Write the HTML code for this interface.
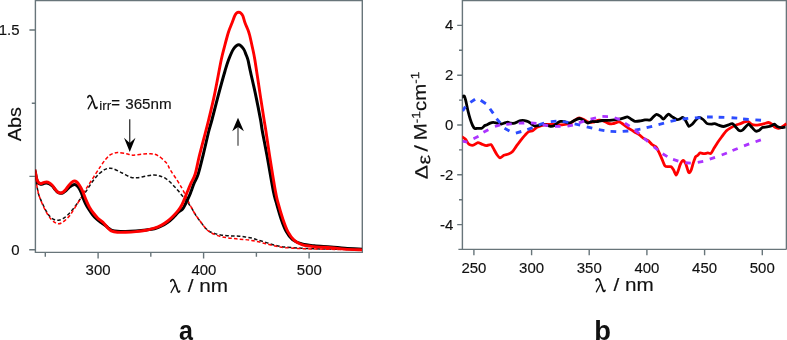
<!DOCTYPE html>
<html><head><meta charset="utf-8"><title>fig</title>
<style>
html,body{margin:0;padding:0;background:#fff;}
body{width:787px;height:340px;overflow:hidden;}
svg{display:block;will-change:transform;}
text{font-family:"Liberation Sans",sans-serif;fill:#111;stroke:#111;stroke-width:0.15px;}
.ser{font-family:"Liberation Serif",serif;}
.b{font-weight:bold;stroke:none;}
</style></head><body>
<svg width="787" height="340" viewBox="0 0 787 340">
<rect width="787" height="340" fill="#fff"/>
<defs><clipPath id="cl"><rect x="35.4" y="0" width="327" height="252.4"/></clipPath><clipPath id="cr"><rect x="462.4" y="0" width="324.2" height="249.4"/></clipPath></defs>

<g stroke="#68757a" stroke-width="1.4" fill="none">
<path d="M35.4 0 V252.4 H362.3 V0.6 H35.4"/>
<path d="M29.4 30 H35.4 M31.8 103.2 H35.4 M29.4 176.4 H35.4 M29.2 249.7 H35.4"/>
<path d="M45.3 252.4 V256.8 M98.1 252.4 V258.6 M150.8 252.4 V256.8 M203.6 252.4 V258.6 M256.4 252.4 V256.8 M309.1 252.4 V258.6 "/>
</g>
<g clip-path="url(#cl)">
<path d="M35.20 170.00 C35.30 171.00 35.57 173.67 35.80 176.00 C36.03 178.33 36.22 181.33 36.60 184.00 C36.98 186.67 37.67 190.00 38.10 192.00 C38.53 194.00 38.50 194.13 39.20 196.00 C39.90 197.87 41.10 200.62 42.30 203.20 C43.50 205.78 45.03 209.18 46.40 211.50 C47.77 213.82 49.13 215.73 50.50 217.10 C51.87 218.47 53.23 219.18 54.60 219.70 C55.97 220.22 57.32 220.37 58.70 220.20 C60.08 220.03 61.52 219.47 62.90 218.70 C64.28 217.93 65.63 216.80 67.00 215.60 C68.37 214.40 69.73 213.05 71.10 211.50 C72.47 209.95 73.92 208.02 75.20 206.30 C76.48 204.58 77.68 202.83 78.80 201.20 C79.92 199.57 80.60 198.28 81.90 196.50 C83.20 194.72 84.80 193.05 86.60 190.50 C88.40 187.95 90.65 183.95 92.70 181.20 C94.75 178.45 96.93 175.92 98.90 174.00 C100.87 172.08 102.85 170.65 104.50 169.70 C106.15 168.75 107.30 168.45 108.80 168.30 C110.30 168.15 111.27 168.02 113.50 168.80 C115.73 169.58 119.35 171.60 122.20 173.00 C125.05 174.40 128.15 176.40 130.60 177.20 C133.05 178.00 134.45 177.97 136.90 177.80 C139.35 177.63 142.50 176.68 145.30 176.20 C148.10 175.72 151.25 174.93 153.70 174.90 C156.15 174.87 157.92 175.35 160.00 176.00 C162.08 176.65 164.13 177.40 166.20 178.80 C168.27 180.20 170.43 182.43 172.40 184.40 C174.37 186.37 176.28 188.62 178.00 190.60 C179.72 192.58 181.37 194.70 182.70 196.30 C184.03 197.90 184.95 198.88 186.00 200.20 C187.05 201.52 188.12 203.00 189.00 204.20 C189.88 205.40 190.23 205.67 191.30 207.40 C192.37 209.13 193.85 212.20 195.40 214.60 C196.95 217.00 198.98 219.62 200.60 221.80 C202.22 223.98 203.65 226.12 205.10 227.70 C206.55 229.28 207.75 230.35 209.30 231.30 C210.85 232.25 212.52 232.80 214.40 233.40 C216.28 234.00 218.53 234.52 220.60 234.90 C222.67 235.28 224.73 235.52 226.80 235.70 C228.87 235.88 230.95 235.92 233.00 236.00 C235.05 236.08 237.05 236.03 239.10 236.20 C241.15 236.37 243.23 236.70 245.30 237.00 C247.37 237.30 249.62 237.57 251.50 238.00 C253.38 238.43 254.72 239.03 256.60 239.60 C258.48 240.17 260.73 240.75 262.80 241.40 C264.87 242.05 266.93 242.87 269.00 243.50 C271.07 244.13 273.40 244.73 275.20 245.20 C277.00 245.67 278.20 246.00 279.80 246.30 C281.40 246.60 281.87 246.72 284.80 247.00 C287.73 247.28 293.20 247.73 297.40 248.00 C301.60 248.27 304.57 248.42 310.00 248.60 C315.43 248.78 321.33 248.92 330.00 249.10 C338.67 249.28 356.67 249.60 362.00 249.70" fill="none" stroke="#111" stroke-width="1.5" stroke-dasharray="3.6 2.2"/>
<path d="M35.20 170.00 C35.30 171.00 35.57 173.67 35.80 176.00 C36.03 178.33 36.22 181.33 36.60 184.00 C36.98 186.67 37.67 190.00 38.10 192.00 C38.53 194.00 38.33 193.62 39.20 196.00 C40.07 198.38 41.93 203.30 43.30 206.30 C44.67 209.30 46.03 211.77 47.40 214.00 C48.77 216.23 50.22 218.27 51.50 219.70 C52.78 221.13 53.98 221.92 55.10 222.60 C56.22 223.28 57.08 223.77 58.20 223.80 C59.32 223.83 60.50 223.52 61.80 222.80 C63.10 222.08 64.62 220.78 66.00 219.50 C67.38 218.22 68.73 216.87 70.10 215.10 C71.47 213.33 72.83 211.05 74.20 208.90 C75.57 206.75 77.02 204.27 78.30 202.20 C79.58 200.13 81.03 198.07 81.90 196.50 C82.77 194.93 82.35 194.78 83.50 192.80 C84.65 190.82 86.82 187.68 88.80 184.60 C90.78 181.52 93.40 177.40 95.40 174.30 C97.40 171.20 99.12 168.47 100.80 166.00 C102.48 163.53 104.02 161.30 105.50 159.50 C106.98 157.70 108.28 156.25 109.70 155.20 C111.12 154.15 112.62 153.63 114.00 153.20 C115.38 152.77 115.93 152.52 118.00 152.60 C120.07 152.68 123.95 153.27 126.40 153.70 C128.85 154.13 130.25 155.10 132.70 155.20 C135.15 155.30 138.13 154.55 141.10 154.30 C144.07 154.05 147.70 153.48 150.50 153.70 C153.30 153.92 155.27 154.08 157.90 155.60 C160.53 157.12 164.23 160.40 166.30 162.80 C168.37 165.20 168.60 167.25 170.30 170.00 C172.00 172.75 174.53 176.22 176.50 179.30 C178.47 182.38 180.57 185.77 182.10 188.50 C183.63 191.23 184.77 193.77 185.70 195.70 C186.63 197.63 186.77 198.15 187.70 200.10 C188.63 202.05 190.02 204.98 191.30 207.40 C192.58 209.82 193.85 212.20 195.40 214.60 C196.95 217.00 198.98 219.60 200.60 221.80 C202.22 224.00 203.65 226.17 205.10 227.80 C206.55 229.43 207.75 230.50 209.30 231.60 C210.85 232.70 212.52 233.58 214.40 234.40 C216.28 235.22 218.53 235.95 220.60 236.50 C222.67 237.05 224.73 237.37 226.80 237.70 C228.87 238.03 230.95 238.27 233.00 238.50 C235.05 238.73 237.05 238.92 239.10 239.10 C241.15 239.28 243.23 239.38 245.30 239.60 C247.37 239.82 249.62 240.10 251.50 240.40 C253.38 240.70 254.72 240.98 256.60 241.40 C258.48 241.82 260.73 242.38 262.80 242.90 C264.87 243.42 266.93 243.98 269.00 244.50 C271.07 245.02 273.40 245.58 275.20 246.00 C277.00 246.42 278.20 246.73 279.80 247.00 C281.40 247.27 281.87 247.37 284.80 247.60 C287.73 247.83 293.20 248.18 297.40 248.40 C301.60 248.62 304.57 248.75 310.00 248.90 C315.43 249.05 321.33 249.15 330.00 249.30 C338.67 249.45 356.67 249.72 362.00 249.80" fill="none" stroke="#f00" stroke-width="1.5" stroke-dasharray="3.6 2.2" stroke-dashoffset="2.9"/>
<path d="M34.70 169.50 C34.82 170.00 35.08 170.95 35.40 172.50 C35.72 174.05 36.15 177.12 36.60 178.80 C37.05 180.48 37.42 181.68 38.10 182.60 C38.78 183.52 39.83 184.12 40.70 184.30 C41.57 184.48 42.35 183.92 43.30 183.70 C44.25 183.48 45.37 182.95 46.40 183.00 C47.43 183.05 48.47 183.47 49.50 184.00 C50.53 184.53 51.67 185.28 52.60 186.20 C53.53 187.12 54.25 188.50 55.10 189.50 C55.95 190.50 56.83 191.58 57.70 192.20 C58.57 192.82 59.43 193.10 60.30 193.20 C61.17 193.30 61.95 193.25 62.90 192.80 C63.85 192.35 64.98 191.38 66.00 190.50 C67.02 189.62 68.00 188.37 69.00 187.50 C70.00 186.63 70.97 185.78 72.00 185.30 C73.03 184.82 74.15 184.30 75.20 184.60 C76.25 184.90 77.27 185.73 78.30 187.10 C79.33 188.47 80.53 190.82 81.40 192.80 C82.27 194.78 82.82 197.22 83.50 199.00 C84.18 200.78 84.70 201.92 85.50 203.50 C86.30 205.08 87.15 206.67 88.30 208.50 C89.45 210.33 91.03 212.75 92.40 214.50 C93.77 216.25 94.97 217.62 96.50 219.00 C98.03 220.38 100.02 221.63 101.60 222.80 C103.18 223.97 104.77 225.05 106.00 226.00 C107.23 226.95 108.00 227.78 109.00 228.50 C110.00 229.22 110.60 229.83 112.00 230.30 C113.40 230.77 115.13 231.10 117.40 231.30 C119.67 231.50 122.52 231.55 125.60 231.50 C128.68 231.45 132.47 231.25 135.90 231.00 C139.33 230.75 143.12 230.38 146.20 230.00 C149.28 229.62 151.83 229.37 154.40 228.70 C156.97 228.03 159.37 227.07 161.60 226.00 C163.83 224.93 165.90 223.67 167.80 222.30 C169.70 220.93 171.28 219.43 173.00 217.80 C174.72 216.17 176.50 213.97 178.10 212.50 C179.70 211.03 181.42 210.33 182.60 209.00 C183.78 207.67 184.07 206.72 185.20 204.50 C186.33 202.28 188.40 197.95 189.40 195.70 C190.40 193.45 190.43 193.05 191.20 191.00 C191.97 188.95 192.83 186.23 194.00 183.40 C195.17 180.57 196.70 178.63 198.20 174.00 C199.70 169.37 201.23 162.77 203.00 155.60 C204.77 148.43 207.32 136.93 208.80 131.00 C210.28 125.07 210.33 125.90 211.90 120.00 C213.47 114.10 216.02 103.77 218.20 95.60 C220.38 87.43 223.28 76.93 225.00 71.00 C226.72 65.07 227.08 63.67 228.50 60.00 C229.92 56.33 231.78 51.55 233.50 49.00 C235.22 46.45 237.12 44.70 238.80 44.70 C240.48 44.70 242.37 47.28 243.60 49.00 C244.83 50.72 245.47 53.17 246.20 55.00 C246.93 56.83 247.32 57.33 248.00 60.00 C248.68 62.67 249.00 65.07 250.30 71.00 C251.60 76.93 254.08 87.43 255.80 95.60 C257.52 103.77 259.52 114.10 260.60 120.00 C261.68 125.90 261.23 125.07 262.30 131.00 C263.37 136.93 265.17 145.60 267.00 155.60 C268.83 165.60 271.75 183.17 273.30 191.00 C274.85 198.83 274.97 197.87 276.30 202.60 C277.63 207.33 279.63 214.58 281.30 219.40 C282.97 224.22 284.43 228.13 286.30 231.50 C288.17 234.87 289.88 237.52 292.50 239.60 C295.12 241.68 298.38 242.97 302.00 244.00 C305.62 245.03 309.38 245.32 314.20 245.80 C319.02 246.28 325.77 246.48 330.90 246.90 C336.03 247.32 339.82 247.92 345.00 248.30 C350.18 248.68 359.17 249.05 362.00 249.20" fill="none" stroke="#000" stroke-width="3.0" stroke-linejoin="round"/>
<path d="M34.70 169.50 C34.82 170.00 35.08 171.02 35.40 172.50 C35.72 173.98 36.15 176.82 36.60 178.40 C37.05 179.98 37.42 181.15 38.10 182.00 C38.78 182.85 39.83 183.38 40.70 183.50 C41.57 183.62 42.35 182.95 43.30 182.70 C44.25 182.45 45.37 181.95 46.40 182.00 C47.43 182.05 48.47 182.40 49.50 183.00 C50.53 183.60 51.67 184.57 52.60 185.60 C53.53 186.63 54.25 188.13 55.10 189.20 C55.95 190.27 56.83 191.37 57.70 192.00 C58.57 192.63 59.43 192.95 60.30 193.00 C61.17 193.05 61.95 192.93 62.90 192.30 C63.85 191.67 64.98 190.40 66.00 189.20 C67.02 188.00 68.07 186.25 69.00 185.10 C69.93 183.95 70.73 182.98 71.60 182.30 C72.47 181.62 73.33 181.05 74.20 181.00 C75.07 180.95 75.95 181.32 76.80 182.00 C77.65 182.68 78.45 183.82 79.30 185.10 C80.15 186.38 81.12 188.08 81.90 189.70 C82.68 191.32 83.22 192.88 84.00 194.80 C84.78 196.72 85.67 199.10 86.60 201.20 C87.53 203.30 88.40 205.35 89.60 207.40 C90.80 209.45 92.42 211.70 93.80 213.50 C95.18 215.30 96.37 216.73 97.90 218.20 C99.43 219.67 101.30 220.63 103.00 222.30 C104.70 223.97 106.73 226.78 108.10 228.20 C109.47 229.62 109.65 230.12 111.20 230.80 C112.75 231.48 115.00 232.05 117.40 232.30 C119.80 232.55 122.52 232.42 125.60 232.30 C128.68 232.18 132.47 231.95 135.90 231.60 C139.33 231.25 143.12 230.77 146.20 230.20 C149.28 229.63 151.83 229.05 154.40 228.20 C156.97 227.35 159.37 226.30 161.60 225.10 C163.83 223.90 165.90 222.47 167.80 221.00 C169.70 219.53 171.28 218.02 173.00 216.30 C174.72 214.58 176.58 212.67 178.10 210.70 C179.62 208.73 180.83 207.00 182.10 204.50 C183.37 202.00 184.77 197.95 185.70 195.70 C186.63 193.45 186.83 193.05 187.70 191.00 C188.57 188.95 189.65 186.23 190.90 183.40 C192.15 180.57 193.78 178.63 195.20 174.00 C196.62 169.37 197.63 162.77 199.40 155.60 C201.17 148.43 204.27 136.93 205.80 131.00 C207.33 125.07 207.18 125.90 208.60 120.00 C210.02 114.10 212.20 105.60 214.30 95.60 C216.40 85.60 219.52 68.10 221.20 60.00 C222.88 51.90 223.33 51.17 224.40 47.00 C225.47 42.83 226.80 37.83 227.60 35.00 C228.40 32.17 228.45 32.03 229.20 30.00 C229.95 27.97 231.17 25.18 232.10 22.80 C233.03 20.42 234.05 17.33 234.80 15.70 C235.55 14.07 235.97 13.58 236.60 13.00 C237.23 12.42 237.90 12.20 238.60 12.20 C239.30 12.20 240.10 12.42 240.80 13.00 C241.50 13.58 242.10 14.07 242.80 15.70 C243.50 17.33 244.13 20.42 245.00 22.80 C245.87 25.18 247.23 27.97 248.00 30.00 C248.77 32.03 248.88 32.17 249.60 35.00 C250.32 37.83 251.42 42.83 252.30 47.00 C253.18 51.17 253.57 51.90 254.90 60.00 C256.23 68.10 258.77 85.60 260.30 95.60 C261.83 105.60 263.17 114.10 264.10 120.00 C265.03 125.90 264.98 125.07 265.90 131.00 C266.82 136.93 268.02 145.60 269.60 155.60 C271.18 165.60 274.00 183.17 275.40 191.00 C276.80 198.83 276.73 197.87 278.00 202.60 C279.27 207.33 281.33 214.52 283.00 219.40 C284.67 224.28 286.12 228.42 288.00 231.90 C289.88 235.38 291.87 238.13 294.30 240.30 C296.73 242.47 299.28 243.85 302.60 244.90 C305.92 245.95 309.48 246.13 314.20 246.60 C318.92 247.07 325.77 247.28 330.90 247.70 C336.03 248.12 339.82 248.73 345.00 249.10 C350.18 249.47 359.17 249.77 362.00 249.90" fill="none" stroke="#f00" stroke-width="2.9" stroke-linejoin="round"/>
</g>
<path d="M129.75 119.3 V145" stroke="#222" stroke-width="1.2"/>
<path d="M129.75 152 L124 137.8 L129.75 143 L135.5 137.8 Z" fill="#000"/>
<path d="M238 145.8 V126" stroke="#444" stroke-width="1.2"/>
<path d="M238 117.7 L232.2 131.2 L238 127 L243.9 131.2 Z" fill="#000"/>
<text transform="translate(19.6 35) scale(1.07 1)" font-size="14" text-anchor="end" >1.5</text>
<text transform="translate(19.6 254.8) scale(1.07 1)" font-size="14" text-anchor="end" >0</text>
<text transform="translate(98.1 274.9) scale(1.07 1)" font-size="14" text-anchor="middle" >300</text>
<text transform="translate(203.9 274.9) scale(1.07 1)" font-size="14" text-anchor="middle" >400</text>
<text transform="translate(309.3 274.9) scale(1.07 1)" font-size="14" text-anchor="middle" >500</text>
<text transform="translate(20.8 141.2) rotate(-90) scale(1.07 1)" font-size="18.5">Abs</text>
<g transform="translate(170.5 292.9) scale(0.93 0.97)"><path d="M0.3,-12.0 C0.8,-13.6 2.3,-14.1 3.3,-13.2 C4.3,-12.3 4.8,-10.5 5.4,-8.8 L7.8,-1.9 C8.3,-0.5 9.3,-0.4 9.9,-1.9" fill="none" stroke="#111" stroke-width="1.75" stroke-linecap="round" stroke-linejoin="round"/><path d="M4.9,-8.2 L0.6,-0.4" fill="none" stroke="#111" stroke-width="1.35" stroke-linecap="round"/></g>
<g transform="translate(187.8 291.6) scale(1.12 1)"><text font-size="18.5">/ nm</text></g>
<g transform="translate(87.6 109.3) scale(0.95 1.0)"><path d="M0.3,-12.0 C0.8,-13.6 2.3,-14.1 3.3,-13.2 C4.3,-12.3 4.8,-10.5 5.4,-8.8 L7.8,-1.9 C8.3,-0.5 9.3,-0.4 9.9,-1.9" fill="none" stroke="#111" stroke-width="1.75" stroke-linecap="round" stroke-linejoin="round"/><path d="M4.9,-8.2 L0.6,-0.4" fill="none" stroke="#111" stroke-width="1.35" stroke-linecap="round"/></g>
<text x="99.2" y="110.1" font-size="13.5" text-anchor="start" >irr</text>
<text x="111.2" y="108.2" font-size="15" text-anchor="start" >=</text>
<text transform="translate(125.2 108.8) scale(1.012 1)" font-size="15" text-anchor="start" >365nm</text>
<text transform="translate(178.9 339.6) scale(0.88 1)" font-size="28.5" text-anchor="start" class="b">a</text>
<g stroke="#68757a" stroke-width="1.4" fill="none">
<path d="M462.4 0 V249.4 M458.4 249.4 H786.4 M786.4 249.4 V0.6 H462.4"/>
<path d="M457.2 224.6 H462.4 M459 199.7 H462.4 M457.2 174.8 H462.4 M459 149.9 H462.4 M457.2 125.0 H462.4 M459 100.1 H462.4 M457.2 75.2 H462.4 M459 50.3 H462.4 M457.2 25.4 H462.4 "/>
<path d="M473.9 249.4 V255.2 M531.6 249.4 V255.2 M589.2 249.4 V255.2 M646.9 249.4 V255.2 M704.6 249.4 V255.2 M762.3 249.4 V255.2 "/>
</g>
<g clip-path="url(#cr)">
<path d="M461.00 136.40 C461.19 136.50 462.04 136.83 462.60 137.20 C463.16 137.57 464.96 138.67 465.70 139.50 C466.44 140.33 467.89 143.42 468.80 144.10 C469.71 144.78 472.21 145.38 473.30 145.20 C474.39 145.02 476.88 142.73 477.90 142.60 C478.92 142.47 480.79 143.74 481.80 144.10 C482.81 144.46 485.21 145.54 486.30 145.60 C487.39 145.66 489.98 144.13 490.90 144.60 C491.82 145.07 493.27 148.28 494.00 149.50 C494.73 150.72 496.27 153.79 497.00 154.80 C497.73 155.81 499.27 157.84 500.10 157.90 C500.93 157.96 502.89 155.77 503.90 155.30 C504.91 154.83 507.49 154.42 508.50 154.00 C509.51 153.58 511.38 152.71 512.30 151.80 C513.22 150.89 515.19 147.78 516.20 146.40 C517.21 145.02 519.61 141.68 520.70 140.30 C521.79 138.92 524.38 135.91 525.30 134.90 C526.22 133.89 527.48 132.44 528.40 131.90 C529.32 131.36 531.99 130.95 533.00 130.40 C534.01 129.85 535.89 127.85 536.80 127.30 C537.71 126.75 539.41 126.15 540.60 125.80 C541.79 125.45 545.04 124.57 546.70 124.40 C548.36 124.23 552.56 124.35 554.40 124.40 C556.24 124.45 560.13 124.93 562.00 124.80 C563.87 124.67 568.49 123.85 570.00 123.30 C571.51 122.75 573.50 120.85 574.60 120.20 C575.70 119.55 578.10 117.98 579.20 117.90 C580.30 117.82 582.71 118.98 583.80 119.50 C584.89 120.02 587.21 121.88 588.30 122.20 C589.39 122.52 591.62 122.44 592.90 122.20 C594.18 121.96 597.62 120.31 599.00 120.20 C600.38 120.09 603.30 120.93 604.40 121.30 C605.50 121.67 607.19 123.01 608.20 123.30 C609.21 123.59 611.52 123.88 612.80 123.70 C614.08 123.52 617.70 121.76 618.90 121.80 C620.10 121.84 621.70 123.27 622.80 124.00 C623.90 124.73 626.73 126.98 628.10 127.90 C629.47 128.82 632.88 130.90 634.20 131.70 C635.52 132.50 637.97 133.80 639.10 134.60 C640.23 135.40 642.51 137.67 643.60 138.40 C644.69 139.13 647.19 139.97 648.20 140.70 C649.21 141.43 651.08 143.77 652.00 144.50 C652.92 145.23 655.07 145.88 655.90 146.80 C656.73 147.72 658.17 150.72 658.90 152.20 C659.63 153.68 661.27 157.46 662.00 159.10 C662.73 160.74 664.27 164.99 665.00 165.90 C665.73 166.81 667.36 166.60 668.10 166.70 C668.84 166.80 670.55 166.33 671.20 166.70 C671.85 167.07 672.91 168.79 673.50 169.80 C674.09 170.81 675.56 174.92 676.10 175.10 C676.64 175.28 677.50 172.58 678.00 171.30 C678.50 170.02 679.69 165.72 680.30 164.40 C680.91 163.08 682.45 160.40 683.10 160.30 C683.75 160.20 685.03 162.14 685.70 163.60 C686.37 165.06 688.06 171.67 688.70 172.50 C689.34 173.33 690.45 171.65 691.00 170.50 C691.55 169.35 692.75 164.54 693.30 162.90 C693.85 161.26 695.05 157.72 695.60 156.80 C696.15 155.88 697.35 155.67 697.90 155.20 C698.45 154.73 699.47 153.08 700.20 152.90 C700.93 152.72 703.08 153.70 704.00 153.70 C704.92 153.70 707.07 152.94 707.90 152.90 C708.73 152.86 710.17 153.95 710.90 153.40 C711.63 152.85 713.17 149.64 714.00 148.30 C714.83 146.96 716.89 143.56 717.80 142.20 C718.71 140.84 720.59 138.34 721.60 137.00 C722.61 135.66 725.07 132.13 726.20 131.00 C727.33 129.87 729.86 128.30 731.00 127.60 C732.14 126.90 734.56 125.68 735.70 125.20 C736.84 124.72 739.43 124.00 740.50 123.60 C741.57 123.20 743.70 122.15 744.60 121.90 C745.50 121.65 747.18 121.22 748.00 121.50 C748.82 121.78 750.50 123.76 751.40 124.20 C752.30 124.64 754.44 125.15 755.50 125.20 C756.56 125.25 759.14 124.79 760.20 124.60 C761.26 124.41 763.32 123.85 764.30 123.60 C765.28 123.35 767.50 122.43 768.40 122.50 C769.30 122.57 770.98 123.61 771.80 124.20 C772.62 124.79 774.38 126.91 775.20 127.40 C776.02 127.89 777.70 128.41 778.60 128.30 C779.50 128.19 781.75 127.06 782.70 126.50 C783.65 125.94 786.04 123.95 786.50 123.60" fill="none" stroke="#f00" stroke-width="2.8" stroke-linejoin="round"/>
<path d="M461.40 97.80 C461.54 97.64 462.26 96.72 462.60 96.50 C462.94 96.28 463.83 95.54 464.20 96.00 C464.57 96.46 465.24 98.50 465.70 100.30 C466.16 102.10 467.45 108.71 468.00 111.00 C468.55 113.29 469.75 117.66 470.30 119.40 C470.85 121.14 472.05 124.40 472.60 125.50 C473.15 126.60 474.26 128.26 474.90 128.60 C475.54 128.94 477.07 128.34 477.90 128.30 C478.73 128.26 480.97 128.64 481.80 128.30 C482.63 127.96 484.16 125.92 484.80 125.50 C485.44 125.08 486.45 125.09 487.10 124.80 C487.75 124.51 489.47 123.39 490.20 123.10 C490.93 122.81 492.38 122.40 493.20 122.40 C494.02 122.40 495.99 122.91 497.00 123.10 C498.01 123.29 500.68 124.02 501.60 124.00 C502.52 123.98 503.96 123.12 504.70 122.90 C505.44 122.68 507.07 122.16 507.80 122.20 C508.53 122.24 509.98 123.08 510.80 123.20 C511.62 123.32 513.77 123.38 514.60 123.20 C515.43 123.02 516.97 122.01 517.70 121.70 C518.43 121.39 519.87 120.73 520.70 120.60 C521.53 120.47 523.68 120.47 524.60 120.60 C525.52 120.73 527.57 121.29 528.40 121.70 C529.23 122.11 530.77 123.48 531.50 124.00 C532.23 124.52 533.68 125.82 534.50 126.00 C535.32 126.18 537.38 125.69 538.30 125.50 C539.22 125.31 541.19 124.45 542.20 124.40 C543.21 124.35 545.69 124.87 546.70 125.10 C547.71 125.33 549.68 126.25 550.60 126.30 C551.52 126.35 553.58 125.91 554.40 125.50 C555.22 125.09 556.67 123.39 557.40 122.90 C558.13 122.41 559.67 121.54 560.50 121.40 C561.33 121.26 563.39 121.52 564.30 121.70 C565.21 121.88 567.36 122.77 568.10 122.90 C568.84 123.03 569.76 123.10 570.50 122.80 C571.24 122.50 573.23 120.92 574.30 120.40 C575.37 119.88 578.28 118.50 579.40 118.50 C580.52 118.50 582.60 119.86 583.60 120.40 C584.60 120.94 586.72 122.87 587.70 123.00 C588.68 123.13 590.70 121.66 591.80 121.50 C592.90 121.34 595.66 121.82 596.90 121.70 C598.14 121.58 600.55 120.67 602.10 120.50 C603.65 120.33 607.78 120.46 609.80 120.30 C611.82 120.14 617.26 119.46 618.90 119.20 C620.54 118.94 622.49 118.38 623.50 118.10 C624.51 117.82 626.38 116.77 627.30 116.90 C628.22 117.03 630.28 118.67 631.20 119.20 C632.12 119.73 633.99 121.08 635.00 121.30 C636.01 121.52 638.41 121.17 639.60 121.00 C640.79 120.83 643.62 120.03 644.90 119.90 C646.18 119.77 649.29 120.26 650.30 119.90 C651.31 119.54 652.57 117.57 653.30 116.90 C654.03 116.23 655.57 114.40 656.40 114.30 C657.23 114.20 659.37 115.51 660.20 116.10 C661.03 116.69 662.57 119.20 663.30 119.20 C664.03 119.20 665.66 116.70 666.30 116.10 C666.94 115.50 667.87 114.10 668.60 114.20 C669.33 114.30 671.39 116.25 672.40 116.90 C673.41 117.55 676.08 119.36 677.00 119.60 C677.92 119.84 679.42 119.16 680.10 118.90 C680.78 118.64 682.06 117.24 682.70 117.40 C683.34 117.56 684.67 119.13 685.40 120.20 C686.13 121.27 687.98 125.82 688.80 126.30 C689.62 126.78 691.38 124.93 692.20 124.20 C693.02 123.47 694.78 121.02 695.60 120.20 C696.42 119.38 698.10 117.48 699.00 117.40 C699.90 117.32 702.12 118.76 703.10 119.50 C704.08 120.24 706.22 123.04 707.20 123.60 C708.18 124.16 710.40 124.20 711.30 124.20 C712.20 124.20 713.81 123.48 714.70 123.60 C715.59 123.72 717.64 124.85 718.70 125.20 C719.76 125.55 722.43 126.50 723.50 126.50 C724.57 126.50 726.54 125.55 727.60 125.20 C728.66 124.85 731.33 123.40 732.30 123.60 C733.27 123.80 734.88 126.06 735.70 126.90 C736.52 127.74 738.28 130.22 739.10 130.60 C739.92 130.98 741.68 130.59 742.50 130.10 C743.32 129.61 745.16 127.21 745.90 126.50 C746.64 125.79 747.96 124.07 748.70 124.20 C749.44 124.33 751.28 126.78 752.10 127.60 C752.92 128.42 754.68 130.64 755.50 131.00 C756.32 131.36 758.08 131.01 758.90 130.60 C759.72 130.19 761.33 128.04 762.30 127.60 C763.27 127.16 765.94 127.09 767.00 126.90 C768.06 126.71 770.20 126.32 771.10 126.00 C772.00 125.68 773.77 124.14 774.50 124.20 C775.23 124.26 776.38 126.09 777.20 126.50 C778.02 126.91 780.32 127.55 781.30 127.60 C782.28 127.65 784.91 126.98 785.40 126.90" fill="none" stroke="#000" stroke-width="2.8" stroke-linejoin="round"/>
<path d="M462.6 110.9 L465.5 106.6 M470.4 102.4 L475.1 99.3 M480.7 100.3 L485.9 103.7 M489.95 108.78 L493.25 113.42 M496.58 118.60 L500.22 123.00 M504.52 128.29 L509.48 131.11 M515.86 133.09 L521.34 131.51 M527.32 129.57 L532.68 127.63 M538.67 124.83 L544.13 123.17 M550.76 121.64 L556.44 121.16 M562.67 121.63 L568.33 122.37 M574.62 123.86 L580.18 125.14 M586.72 126.86 L592.28 128.14 M598.79 129.63 L604.41 130.57 M610.55 131.37 L616.25 131.63 M622.66 131.42 L628.34 130.98 M634.79 130.09 L640.41 129.11 M646.63 127.67 L652.17 126.33 M658.54 124.62 L664.06 123.18 M670.51 121.40 L676.09 120.20 M682.57 119.05 L688.23 118.35 M694.86 118.00 L700.54 117.60 M707.05 117.06 L712.75 116.94 M718.65 117.20 L724.35 117.40 M731.56 117.68 L737.24 118.12 M743.06 118.94 L748.74 119.46 M755.36 119.89 L761.04 120.31 " fill="none" stroke="#2c4cff" stroke-width="2.9"/>
<path d="M462.4 141.2 L467.3 142.2 M473.48 138.71 L478.52 136.29 M483.44 132.34 L488.36 129.66 M494.92 126.50 L500.28 124.90 M506.22 124.40 L511.78 123.80 M518.70 123.20 L524.30 123.00 M530.91 122.94 L536.49 123.46 M542.62 124.93 L548.18 125.67 M555.00 126.37 L560.60 126.43 M567.45 126.11 L572.95 125.09 M578.83 122.83 L584.17 121.17 M590.57 119.03 L596.03 117.77 M602.40 116.46 L608.00 116.54 M614.57 117.73 L619.83 119.67 M624.97 123.15 L629.63 126.25 M634.83 130.13 L639.17 133.67 M643.79 138.06 L648.01 141.74 M653.71 146.55 L658.09 150.05 M662.61 153.75 L667.39 156.65 M673.04 159.41 L678.36 161.19 M685.21 162.73 L690.79 163.07 M697.75 162.32 L703.25 161.28 M709.74 159.17 L715.06 157.43 M721.69 155.01 L726.91 152.99 M732.51 150.56 L737.69 148.44 M743.98 145.89 L749.22 143.91 M755.56 141.73 L760.84 139.87 " fill="none" stroke="#ac34ff" stroke-width="2.8"/>
</g>
<text transform="translate(453.3 30.400000000000006) scale(1.07 1)" font-size="14" text-anchor="end" >4</text>
<text transform="translate(453.3 80.2) scale(1.07 1)" font-size="14" text-anchor="end" >2</text>
<text transform="translate(453.3 130.0) scale(1.07 1)" font-size="14" text-anchor="end" >0</text>
<text transform="translate(453.3 179.8) scale(1.07 1)" font-size="14" text-anchor="end" >-2</text>
<text transform="translate(453.3 229.6) scale(1.07 1)" font-size="14" text-anchor="end" >-4</text>
<text transform="translate(473.9 272.5) scale(1.07 1)" font-size="14" text-anchor="middle" >250</text>
<text transform="translate(531.5749999999999 272.5) scale(1.07 1)" font-size="14" text-anchor="middle" >300</text>
<text transform="translate(589.25 272.5) scale(1.07 1)" font-size="14" text-anchor="middle" >350</text>
<text transform="translate(646.925 272.5) scale(1.07 1)" font-size="14" text-anchor="middle" >400</text>
<text transform="translate(704.5999999999999 272.5) scale(1.07 1)" font-size="14" text-anchor="middle" >450</text>
<text transform="translate(762.275 272.5) scale(1.07 1)" font-size="14" text-anchor="middle" >500</text>
<g transform="translate(595.8 292.2) scale(0.93 0.97)"><path d="M0.3,-12.0 C0.8,-13.6 2.3,-14.1 3.3,-13.2 C4.3,-12.3 4.8,-10.5 5.4,-8.8 L7.8,-1.9 C8.3,-0.5 9.3,-0.4 9.9,-1.9" fill="none" stroke="#111" stroke-width="1.75" stroke-linecap="round" stroke-linejoin="round"/><path d="M4.9,-8.2 L0.6,-0.4" fill="none" stroke="#111" stroke-width="1.35" stroke-linecap="round"/></g>
<g transform="translate(613.6 291.0) scale(1.12 1)"><text font-size="18.5">/ nm</text></g>
<g transform="translate(427.8 179.5) rotate(-91.4)" font-size="18"><text transform="translate(0.2 0) scale(1.2 1)">Δ</text><text transform="translate(15.0 2.8) scale(1.22 1)">ε</text><text transform="translate(27.8 0.3) scale(1.4 1)">/</text><text transform="translate(39.2 0) scale(1.14 1)">M<tspan font-size="12" dy="-6">-1</tspan><tspan dy="6">cm</tspan><tspan font-size="12" dy="-6">-1</tspan></text></g>
<text transform="translate(594.3 339.8) scale(0.96 1)" font-size="28.5" text-anchor="start" class="b">b</text>
</svg></body></html>
